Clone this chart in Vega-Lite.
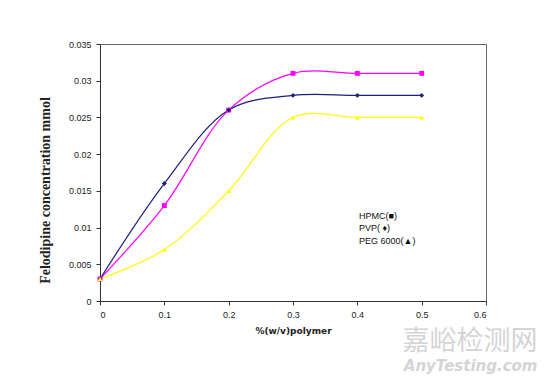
{
  "$schema": "https://vega.github.io/schema/vega-lite/v6.json",
  "width": 386,
  "height": 257,
  "autosize": "none",
  "padding": {"left": 100, "top": 44, "right": 60, "bottom": 77},
  "background": "white",
  "config": {
    "view": {"stroke": "#666", "strokeWidth": 1},
    "font": "Liberation Sans"
  },
  "title": {
    "text": "嘉峪检测网",
    "subtitle": "AnyTesting.com",
    "orient": "bottom",
    "anchor": "end",
    "offset": -6,
    "fontSize": 27,
    "font": "Noto Sans CJK SC",
    "fontWeight": "normal",
    "color": "#d4d4d4",
    "subtitleColor": "#d4d4d4",
    "subtitleFont": "DejaVu Sans",
    "subtitleFontStyle": "italic",
    "subtitleFontWeight": "bold",
    "subtitleFontSize": 15,
    "subtitlePadding": 3,
    "dx": 51
  },
  "data": {
    "values": [
      {"polymer": 0, "conc": 0.003, "series": "HPMC"},
      {"polymer": 0.1, "conc": 0.013, "series": "HPMC"},
      {"polymer": 0.2, "conc": 0.026, "series": "HPMC"},
      {"polymer": 0.3, "conc": 0.031, "series": "HPMC"},
      {"polymer": 0.4, "conc": 0.031, "series": "HPMC"},
      {"polymer": 0.5, "conc": 0.031, "series": "HPMC"},
      {"polymer": 0, "conc": 0.003, "series": "PVP"},
      {"polymer": 0.1, "conc": 0.016, "series": "PVP"},
      {"polymer": 0.2, "conc": 0.026, "series": "PVP"},
      {"polymer": 0.3, "conc": 0.028, "series": "PVP"},
      {"polymer": 0.4, "conc": 0.028, "series": "PVP"},
      {"polymer": 0.5, "conc": 0.028, "series": "PVP"},
      {"polymer": 0, "conc": 0.003, "series": "PEG 6000"},
      {"polymer": 0.1, "conc": 0.007, "series": "PEG 6000"},
      {"polymer": 0.2, "conc": 0.015, "series": "PEG 6000"},
      {"polymer": 0.3, "conc": 0.025, "series": "PEG 6000"},
      {"polymer": 0.4, "conc": 0.025, "series": "PEG 6000"},
      {"polymer": 0.5, "conc": 0.025, "series": "PEG 6000"}
    ]
  },
  "encoding": {
    "x": {
      "field": "polymer", "type": "quantitative",
      "scale": {"domain": [0, 0.6], "nice": false},
      "axis": {
        "values": [0, 0.1, 0.2, 0.3, 0.4, 0.5, 0.6],
        "format": "~g",
        "title": "%(w/v)polymer",
        "titleFont": "DejaVu Sans",
        "titleFontSize": 9,
        "titleFontWeight": "bold",
        "titleColor": "#222",
        "titlePadding": 7,
        "labelFontSize": 9,
        "labelColor": "#222",
        "labelPadding": 5,
        "domainColor": "#333",
        "tickColor": "#333",
        "tickSize": 4,
        "grid": false
      }
    },
    "y": {
      "field": "conc", "type": "quantitative",
      "scale": {"domain": [0, 0.035], "nice": false},
      "axis": {
        "values": [0, 0.005, 0.01, 0.015, 0.02, 0.025, 0.03, 0.035],
        "format": "~g",
        "title": "Felodipine concentration mmol",
        "titleFont": "Liberation Serif",
        "titleFontSize": 14,
        "titleFontWeight": "bold",
        "titleColor": "#222",
        "titlePadding": 16,
        "titleY": 146,
        "labelFontSize": 9,
        "labelColor": "#222",
        "labelPadding": 5,
        "domainColor": "#333",
        "tickColor": "#333",
        "tickSize": 4,
        "grid": false
      }
    },
    "color": {
      "field": "series", "type": "nominal",
      "scale": {"domain": ["HPMC", "PVP", "PEG 6000"], "range": ["#ff00ff", "#1f1f7a", "#ffff00"]},
      "legend": {
        "orient": "none",
        "legendX": 250,
        "legendY": 167,
        "title": null,
        "symbolSize": 0,
        "symbolStrokeWidth": 0,
        "symbolOpacity": 0,
        "labelOffset": 0,
        "labelFontSize": 9,
        "labelColor": "#111",
        "rowPadding": 2.5,
        "labelExpr": "datum.label == 'HPMC' ? 'HPMC(■)' : datum.label == 'PVP' ? 'PVP( ♦)' : 'PEG 6000(▲)'"
      }
    }
  },
  "layer": [
    {
      "mark": {"type": "line", "interpolate": "catmull-rom", "strokeWidth": 1.2}
    },
    {
      "mark": {"type": "point", "filled": true, "size": 24, "opacity": 1},
      "encoding": {
        "shape": {
          "field": "series", "type": "nominal",
          "scale": {"domain": ["HPMC", "PVP", "PEG 6000"], "range": ["square", "diamond", "triangle-up"]},
          "legend": null
        }
      }
    }
  ]
}
